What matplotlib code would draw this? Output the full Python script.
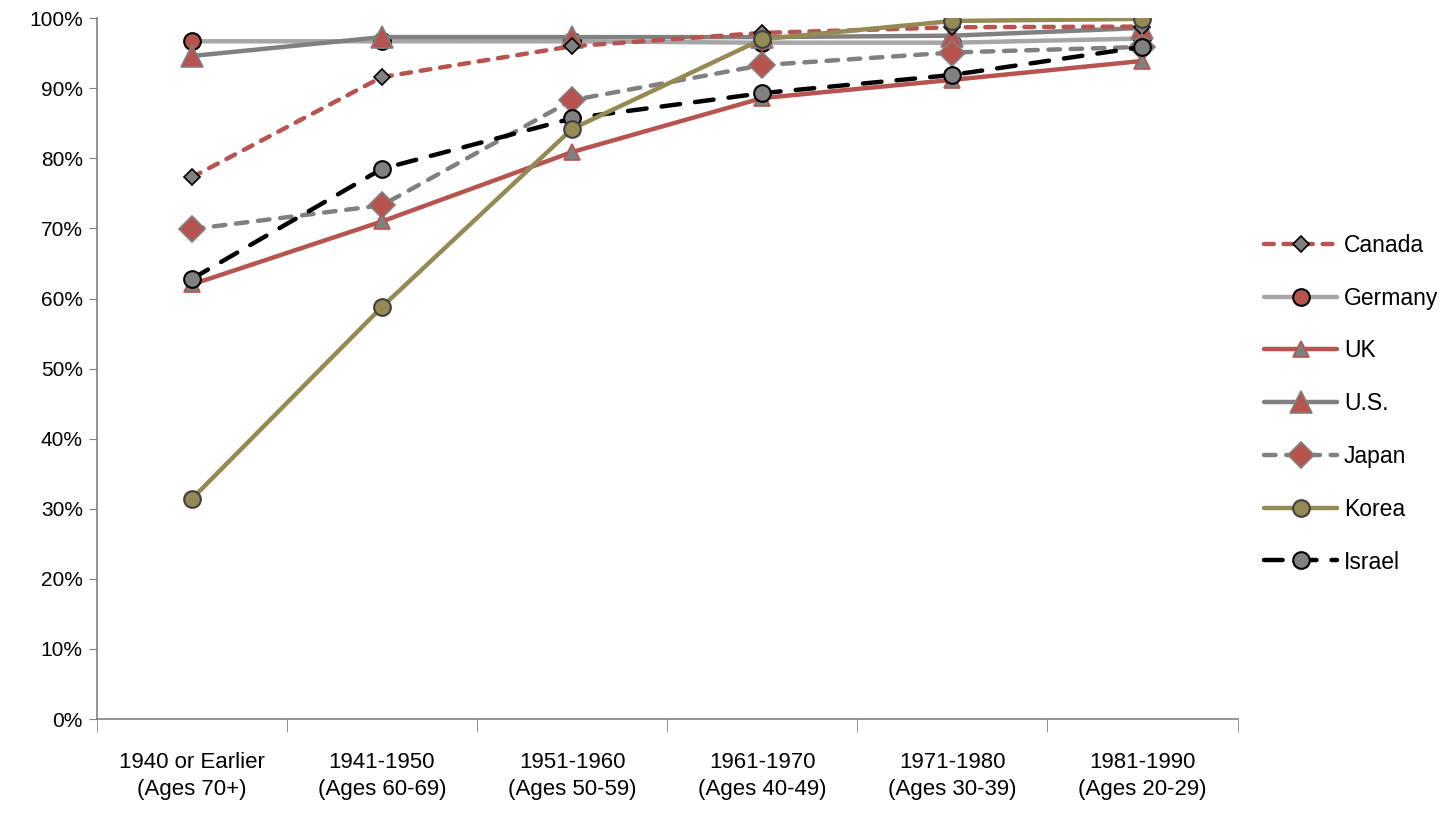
import numpy as np
import matplotlib
matplotlib.use("Agg")
import matplotlib.pyplot as plt
from matplotlib.ticker import FixedLocator, PercentFormatter

# categories (birth cohorts)
cohorts = ["1940 or Earlier\n(Ages 70+)", "1941-1950\n(Ages 60-69)", "1951-1960\n(Ages 50-59)",
           "1961-1970\n(Ages 40-49)", "1971-1980\n(Ages 30-39)", "1981-1990\n(Ages 20-29)"]

# values in percent
canada = [77.3, 91.6, 96.0, 97.9, 98.7, 98.8]
germany = [96.7, 96.7, 96.7, 96.5, 96.5, 97.1]
uk = [62.0, 71.0, 80.9, 88.6, 91.2, 93.9]
us = [94.6, 97.3, 97.3, 97.3, 97.5, 98.6]
japan = [69.9, 73.3, 88.3, 93.3, 95.1, 95.9]
korea = [31.4, 58.8, 84.2, 97.0, 99.6, 99.9]
israel = [62.8, 78.5, 85.7, 89.3, 91.9, 95.9]

RED = "#B85450"
GRAY = "#808080"
LGRAY = "#A6A6A6"
OLIVE = "#948A54"

plt.rcParams['font.family'] = ['Liberation Sans', 'DejaVu Sans']

fig = plt.figure(figsize=(14.44, 8.26), dpi=100)
ax = fig.add_axes([0.067, 0.1295, 0.79, 0.8485])
x = np.arange(len(cohorts))

common = dict(lw=3.2, dash_capstyle="round", solid_capstyle="round")
ax.plot(x, germany, color=LGRAY, marker="o", ms=12, mfc=RED, mec="black", mew=1.5,
        label="Germany", zorder=3, **common)
ax.plot(x, us, color=GRAY, marker="^", ms=16, mfc=RED, mec=GRAY, mew=1.2,
        label="U.S.", zorder=3, **common)
ax.plot(x, canada, color=RED, ls=(0, (2.2, 2.2)), marker="D", ms=8, mfc=GRAY, mec="black", mew=1.2,
        label="Canada", zorder=4, **common)
ax.plot(x, japan, color=GRAY, ls=(0, (2.6, 2.4)), marker="D", ms=13, mfc=RED, mec=GRAY, mew=1.2,
        label="Japan", zorder=4, **common)
ax.plot(x, uk, color=RED, marker="^", ms=12, mfc=GRAY, mec=RED, mew=1.2,
        label="UK", zorder=4, **common)
ax.plot(x, israel, color="black", ls=(0, (4.2, 3.4)), marker="o", ms=12, mfc=GRAY, mec="black", mew=1.5,
        label="Israel", zorder=5, **common)
ax.plot(x, korea, color=OLIVE, marker="o", ms=12, mfc=OLIVE, mec="#404040", mew=1.5,
        label="Korea", zorder=6, **common)

ax.set_xlim(-0.5, len(cohorts) - 0.5)
ax.set_ylim(0, 100)
ax.set_yticks(np.arange(0, 101, 10))
ax.yaxis.set_major_formatter(PercentFormatter(decimals=0))
ax.tick_params(axis="y", labelsize=15, direction="out", length=6, color=GRAY, pad=4)

ax.set_xticks(x)
ax.set_xticklabels(cohorts, fontsize=16, linespacing=1.35)
ax.xaxis.set_minor_locator(FixedLocator(np.arange(-0.5, len(cohorts), 1.0)))
ax.tick_params(axis="x", which="major", length=0, pad=24)
ax.tick_params(axis="x", which="minor", length=9, color=GRAY, direction="out")

for side in ["top", "right"]:
    ax.spines[side].set_visible(False)
for side in ["left", "bottom"]:
    ax.spines[side].set_color(GRAY)
    ax.spines[side].set_linewidth(1.2)

handles, labels = ax.get_legend_handles_labels()
order = ["Canada", "Germany", "UK", "U.S.", "Japan", "Korea", "Israel"]
hmap = dict(zip(labels, handles))
ax.legend([hmap[k] for k in order], order, loc="center left", bbox_to_anchor=(1.005, 0.45),
          frameon=False, fontsize=16.5, handlelength=3.2, labelspacing=1.3, handletextpad=0.3)

fig.savefig("out.png", dpi=100)
